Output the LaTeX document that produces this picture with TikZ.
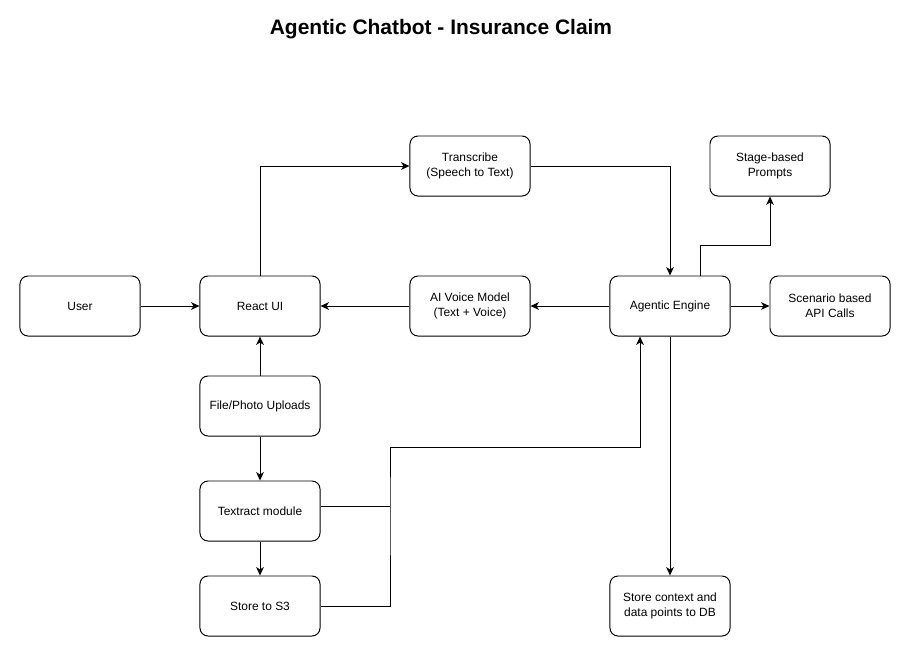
\documentclass[tikz,border=0pt]{standalone}
\usepackage{fontspec}
\setmainfont{Liberation Sans}
\usetikzlibrary{arrows.meta}
\usetikzlibrary{positioning}

\tikzset{
  box/.style={draw=black,line width=0.7pt,rounded corners=0.2cm,minimum width=3cm,minimum height=1.5cm,align=center,font=\fontsize{8.5}{10.5}\selectfont},
  link/.style={draw=black,line width=0.7pt,-{Stealth[length=2.1mm,width=1.9mm,inset=0.6mm]}},
  wire/.style={draw=black,line width=0.7pt}
}

\begin{document}
\begin{tikzpicture}[x=0.025cm,y=-0.025cm]
\useasboundingbox[fill=white] (0,0) rectangle (908,654);
\node[font=\fontsize{14.9}{18}\selectfont\bfseries] (title) at (441,29) {Agentic Chatbot - Insurance Claim};

\node[box] (user) at (80,306) {User};
\node[box] (react) at (260,306) {React UI};
\node[box] (transcribe) at (470,166) {Transcribe\\(Speech to Text)};
\node[box] (voice) at (470,306) {AI Voice Model\\(Text + Voice)};
\node[box] (engine) at (670,306) {Agentic Engine};
\node[box] (prompts) at (770,166) {Stage-based\\Prompts};
\node[box] (api) at (830,306) {Scenario based\\API Calls};
\node[box] (uploads) at (260,406) {File/Photo Uploads};
\node[box] (textract) at (260,511) {Textract module};
\node[box] (s3) at (260,606) {Store to S3};
\node[box] (db) at (670,606) {Store context and\\data points to DB};

\coordinate (join) at (390,506);

\draw[link] (user) -- (react);
\draw[link] (react.north) |- (transcribe.west);
\draw[link] (transcribe.east) -| (engine.north);
\draw[link] (engine) -- (voice);
\draw[link] (voice) -- (react);
\draw[link] (engine.north east) ++(-30,0) -- ++(0,-30) -| (prompts.south);
\draw[link] (engine) -- (api);
\draw[link] (engine.south) -- (db.north);
\draw[link] (uploads) -- (react);
\draw[link] (uploads) -- (textract);
\draw[link] (textract) -- (s3);

\draw[wire] (textract.east |- join) -- (join);
\draw[link] (s3.east) -| (join) |- (640,447) -- (engine.south west -| 640,0);
\end{tikzpicture}
\end{document}
